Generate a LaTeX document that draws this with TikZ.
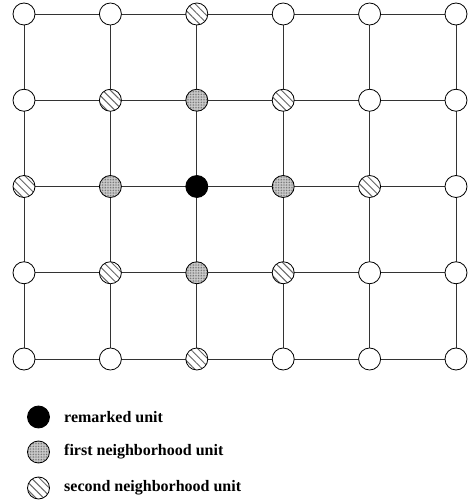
\documentclass[tikz,border=0pt]{standalone}
\usepackage{fontspec}
\setmainfont{Liberation Serif}
\usetikzlibrary{patterns,patterns.meta}
\begin{document}
\begin{tikzpicture}[x=1pt,y=1pt,
  unit/.style={circle,draw=black,line width=0.8pt,minimum size=22pt,inner sep=0pt,fill=white},
  remarked/.style={unit,fill=black},
  first/.style={circle,draw=black,line width=0.8pt,minimum size=22pt,inner sep=0pt,
    preaction={fill=gray!35},pattern={Dots[distance=1.6pt,radius=0.5pt]},pattern color=black!60},
  second/.style={circle,draw=black,line width=0.8pt,minimum size=22pt,inner sep=0pt,
    preaction={fill=white},pattern={Lines[angle=-45,distance=5.5pt,line width=1pt]},pattern color=black!60},
  edge/.style={line width=0.8pt,draw=black!80},
  legtext/.style={anchor=west,font=\fontsize{16}{18}\selectfont\bfseries,inner sep=0pt}]
\useasboundingbox (0,0) rectangle (468,501);
% grid positions
\foreach \c in {0,...,5}{
  \foreach \r in {0,...,4}{
    \pgfmathsetmacro{\px}{24+86.4*\c}
    \pgfmathsetmacro{\py}{501-14-86.25*\r}
    \coordinate (p-\c-\r) at (\px,\py);
  }
}
% edges
\foreach \r in {0,...,4}{
  \foreach \c [evaluate=\c as \cn using int(\c+1)] in {0,...,4}{
    \draw[edge] (p-\c-\r) -- (p-\cn-\r);
  }
}
\foreach \c in {0,...,5}{
  \foreach \r [evaluate=\r as \rn using int(\r+1)] in {0,...,3}{
    \draw[edge] (p-\c-\r) -- (p-\c-\rn);
  }
}
% units
\foreach \c in {0,...,5}{
  \foreach \r in {0,...,4}{
    \pgfmathtruncatemacro{\d}{abs(\c-2)+abs(\r-2)}
    \ifnum\d=0 \node[remarked] (n-\c-\r) at (p-\c-\r) {};
    \else\ifnum\d=1 \node[first] (n-\c-\r) at (p-\c-\r) {};
    \else\ifnum\d=2 \node[second] (n-\c-\r) at (p-\c-\r) {};
    \else \node[unit] (n-\c-\r) at (p-\c-\r) {};
    \fi\fi\fi
  }
}
% legend
\node[remarked] (l1) at (38.5,501-417) {};
\node[first] (l2) at (38.5,501-452) {};
\node[second] (l3) at (38.5,501-488) {};
\node[legtext] (t1) at (64,501-417) {remarked unit};
\node[legtext] (t2) at (64,501-452) {first neighborhood unit};
\node[legtext] (t3) at (64,501-488) {second neighborhood unit};
\end{tikzpicture}
\end{document}
